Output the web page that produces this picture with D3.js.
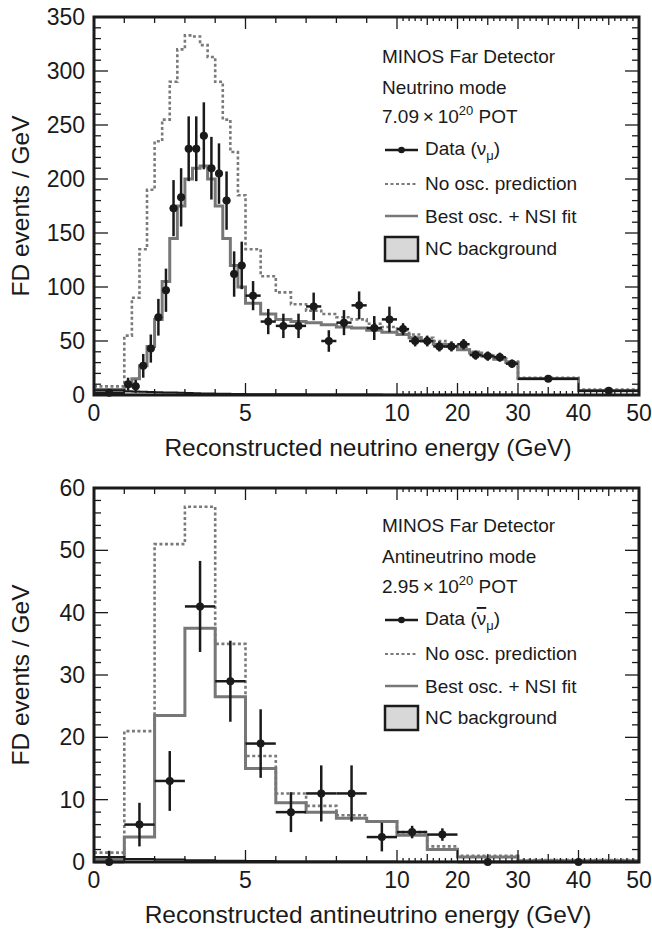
<!DOCTYPE html>
<html>
<head>
<meta charset="utf-8">
<script src="https://cdn.jsdelivr.net/npm/d3@7"></script>
<style>
  body { margin: 0; background: #fff; }
  text { font-family: "Liberation Sans", Arial, sans-serif; fill: #1a1a1a; }
</style>
</head>
<body>
<div id="chart"></div>
<script>
// ------ top panel: neutrino mode
var edgesNu = [0, 1, 1.25, 1.5, 1.75, 2, 2.25, 2.5, 2.75, 3, 3.25, 3.5, 3.75, 4, 4.25, 4.5, 4.75, 5,
  5.5, 6, 6.5, 7, 7.5, 8, 8.5, 9, 9.5, 10, 12, 14, 16, 18, 20, 22, 24, 26, 28, 30, 40, 50]
var dataNu = [2, 10, 8, 27, 43, 72, 97, 173, 183, 228, 228, 240, 210, 205, 180, 112, 120,
  92, 68, 64, 64, 82, 50, 67, 83, 62, 70, 61, 50, 50, 45, 45, 47, 37, 36, 35, 29, 15, 4]
var errNu = [2, 6, 6, 11, 13, 17, 20, 26, 27, 30, 30, 31, 29, 28, 27, 21, 22,
  13.5, 11.7, 11.3, 11.3, 12.8, 10, 11.6, 12.9, 11.1, 11.8, 5.5, 5, 5, 4.7, 4.7, 4.8, 4.3, 4.3, 4.2, 3.9, 1.2, 0.6]
var noOscNu = [8, 55, 90, 135, 190, 235, 255, 290, 320, 333, 332, 324, 313, 290, 255, 225, 185,
  135, 110, 95, 84, 78, 75, 72, 70, 66, 63, 60, 56, 53, 50, 47, 44, 40, 37, 34, 31, 16, 5]
var fitNu = [5, 8, 15, 27, 45, 70, 105, 145, 175, 200, 210, 212, 200, 175, 145, 120, 100,
  85, 75, 70, 68, 67, 65, 63, 62, 60, 58, 56, 53, 50, 47, 45, 42, 39, 36, 33, 30, 15, 4]
var ncNu = [4.5, 3.5, 3.3, 3, 2.8, 2.6, 2.4, 2.2, 2, 1.8, 1.6, 1.5, 1.3, 1.2, 1.1, 1, 0.9,
  0.8, 0.7, 0.6, 0.6, 0.5, 0.5, 0.4, 0.4, 0.4, 0.3, 0.3, 0.3, 0.3, 0.2, 0.2, 0.2, 0.2, 0.2, 0.2, 0.2, 0.1, 0.1]

// ------ bottom panel: antineutrino mode
var edgesNubar = [0, 1, 2, 3, 4, 5, 6, 7, 8, 9, 10, 15, 20, 30, 50]
var dataNubar = [0, 6, 13, 41, 29, 19, 8, 11, 11, 4, 4.8, 4.4, 0, 0]
var errNubar = [1.8, 3.5, 4.8, 7.3, 6.5, 5.5, 3.2, 4.5, 4.5, 2.3, 1.0, 1.0, 0.2, 0.1]
var noOscNubar = [1.5, 21, 51, 57, 35, 17, 11, 9, 7.5, 6.5, 4.8, 2.5, 1, 0.3]
var fitNubar = [0.5, 4, 23.5, 37.5, 26.5, 15, 9.5, 8, 7, 6.5, 4.3, 2, 0.8, 0.2]
var ncNubar = [0.8, 0.5, 0.4, 0.3, 0.2, 0.15, 0.1, 0.1, 0.1, 0.1, 0.05, 0.05, 0.03, 0.02]

var xMajor = [0, 5, 10, 20, 30, 40, 50]

var width = 652
var height = 935

var svg = d3.select('#chart').append('svg')
  .attr('width', width)
  .attr('height', height)

var x = d3.scaleLinear().domain([0, 10, 50]).range([94, 397, 639])

function drawPanel(p) {
  var y = d3.scaleLinear().domain([0, p.yMax]).range([p.yBot, p.yTop])
  var g = svg.append('g')

  var bins = p.edges.slice(0, -1).map((lo, i) => ({
    lo: lo, hi: p.edges[i + 1], data: p.data[i], err: p.err[i],
    noOsc: p.noOsc[i], fit: p.fit[i], nc: p.nc[i]
  }))

  function steps(key) {
    var pts = bins.map(b => [x(b.lo), y(b[key])])
    var last = bins[bins.length - 1]
    pts.push([x(last.hi), y(last[key])])
    return d3.line().curve(d3.curveStepAfter)(pts)
  }

  // NC background fill
  var area = d3.area().curve(d3.curveStepAfter)
    .x(d => d[0]).y0(y(0)).y1(d => d[1])
  var ncPts = bins.map(b => [x(b.lo), y(b.nc)])
  ncPts.push([x(50), y(bins[bins.length - 1].nc)])
  g.append('path').attr('d', area(ncPts)).attr('fill', '#d8d8d8')

  g.append('path').attr('d', steps('noOsc'))
    .attr('fill', 'none').attr('stroke', '#7a7a7a')
    .attr('stroke-width', 2.6).attr('stroke-dasharray', '3,2.5')
  g.append('path').attr('d', steps('fit'))
    .attr('fill', 'none').attr('stroke', '#777').attr('stroke-width', 3)
  g.append('path').attr('d', steps('nc'))
    .attr('fill', 'none').attr('stroke', '#1a1a1a').attr('stroke-width', 2)

  // data points
  var pts = g.append('g').selectAll('g').data(bins).enter().append('g')
  pts.append('line')
    .attr('x1', d => x(d.lo)).attr('x2', d => x(d.hi))
    .attr('y1', d => y(d.data)).attr('y2', d => y(d.data))
    .attr('stroke', '#1a1a1a').attr('stroke-width', 2.5)
  pts.append('line')
    .attr('x1', d => x((d.lo + d.hi) / 2)).attr('x2', d => x((d.lo + d.hi) / 2))
    .attr('y1', d => y(Math.max(0, d.data - d.err))).attr('y2', d => y(d.data + d.err))
    .attr('stroke', '#1a1a1a').attr('stroke-width', 2.5)
  pts.append('circle')
    .attr('cx', d => x((d.lo + d.hi) / 2)).attr('cy', d => y(d.data))
    .attr('r', 4).attr('fill', '#1a1a1a')

  // ticks
  var tk = g.append('g').attr('stroke', '#1a1a1a').attr('stroke-width', 1.3)
  var yTicks = d3.range(0, p.yMax + 0.001, p.yMinor)
  yTicks.forEach(v => {
    var len = Math.abs(v % p.yMajor) < 1e-6 ? 14 : 7
    tk.append('line').attr('x1', x(0)).attr('x2', x(0) + len).attr('y1', y(v)).attr('y2', y(v))
    tk.append('line').attr('x1', x(50)).attr('x2', x(50) - len).attr('y1', y(v)).attr('y2', y(v))
  })
  var xTicks = d3.range(1, 50)
  xTicks.forEach(v => {
    var len
    if (xMajor.indexOf(v) >= 0) len = 12
    else if (v > 10 && v % 5 === 0) len = 8
    else if (v < 10) len = 6
    else len = 4
    tk.append('line').attr('x1', x(v)).attr('x2', x(v)).attr('y1', y(0)).attr('y2', y(0) - len)
    tk.append('line').attr('x1', x(v)).attr('x2', x(v)).attr('y1', y(p.yMax)).attr('y2', y(p.yMax) + len)
  })

  // frame
  g.append('rect')
    .attr('x', x(0)).attr('y', y(p.yMax))
    .attr('width', x(50) - x(0)).attr('height', y(0) - y(p.yMax))
    .attr('fill', 'none').attr('stroke', '#1a1a1a').attr('stroke-width', 3)

  // tick labels
  g.append('g').selectAll('text')
    .data(d3.range(0, p.yMax + 0.001, p.yMajor)).enter().append('text')
    .attr('x', 85).attr('y', d => y(d) + 8)
    .attr('text-anchor', 'end').style('font-size', '23px')
    .text(d => d)
  g.append('g').selectAll('text')
    .data(xMajor).enter().append('text')
    .attr('x', d => x(d)).attr('y', y(0) + 26)
    .attr('text-anchor', 'middle').style('font-size', '23px')
    .text(d => d)

  // axis titles
  g.append('text')
    .attr('transform', `translate(29,${(p.yTop + p.yBot) / 2}) rotate(-90)`)
    .attr('text-anchor', 'middle').style('font-size', '24.5px')
    .text('FD events / GeV')
  g.append('text')
    .attr('x', 368).attr('y', y(0) + 61)
    .attr('text-anchor', 'middle').style('font-size', '24.5px')
    .text(p.xTitle)

  // legend
  var lx = 382
  var b = p.legendBase
  var fs = '19px'
  g.append('text').attr('x', lx).attr('y', b[0]).style('font-size', fs).text('MINOS Far Detector')
  g.append('text').attr('x', lx).attr('y', b[1]).style('font-size', fs).text(p.mode)
  var pot = g.append('text').attr('x', lx).attr('y', b[2]).style('font-size', fs)
  pot.append('tspan').text(p.pot + '\u2009\u00d7\u200910')
  pot.append('tspan').attr('dy', -8).style('font-size', '13px').text('20')
  pot.append('tspan').attr('dy', 8).text(' POT')

  var sx0 = 385, sx1 = 418, tx = 425
  g.append('line').attr('x1', sx0).attr('x2', sx1).attr('y1', b[3] - 5).attr('y2', b[3] - 5)
    .attr('stroke', '#1a1a1a').attr('stroke-width', 2.5)
  g.append('circle').attr('cx', (sx0 + sx1) / 2).attr('cy', b[3] - 5).attr('r', 3.3).attr('fill', '#1a1a1a')
  var dt = g.append('text').attr('x', tx).attr('y', b[3]).style('font-size', fs)
  dt.append('tspan').text('Data (')
  dt.append('tspan').style('text-decoration', p.bar ? 'overline' : 'none').text('\u03bd')
  dt.append('tspan').attr('dy', 5).style('font-size', '13px').text('\u03bc')
  dt.append('tspan').attr('dy', -5).text(')')

  g.append('line').attr('x1', sx0).attr('x2', sx1).attr('y1', b[4] - 6).attr('y2', b[4] - 6)
    .attr('stroke', '#7a7a7a').attr('stroke-width', 2).attr('stroke-dasharray', '3,2.5')
  g.append('text').attr('x', tx).attr('y', b[4]).style('font-size', fs).text('No osc. prediction')

  g.append('line').attr('x1', sx0).attr('x2', sx1).attr('y1', b[5] - 7).attr('y2', b[5] - 7)
    .attr('stroke', '#777').attr('stroke-width', 2.5)
  g.append('text').attr('x', tx).attr('y', b[5]).style('font-size', fs).text('Best osc. + NSI fit')

  g.append('rect').attr('x', sx0).attr('y', b[6] - 18).attr('width', sx1 - sx0).attr('height', 24)
    .attr('fill', '#d8d8d8').attr('stroke', '#1a1a1a').attr('stroke-width', 2.5)
  g.append('text').attr('x', tx).attr('y', b[6]).style('font-size', fs).text('NC background')
}

drawPanel({
  edges: edgesNu, data: dataNu, err: errNu, noOsc: noOscNu, fit: fitNu, nc: ncNu,
  yTop: 17, yBot: 395, yMax: 350, yMajor: 50, yMinor: 10,
  xTitle: 'Reconstructed neutrino energy (GeV)',
  mode: 'Neutrino mode', pot: '7.09', bar: false,
  legendBase: [63, 94, 123, 155, 190, 223, 255]
})

drawPanel({
  edges: edgesNubar, data: dataNubar, err: errNubar, noOsc: noOscNubar, fit: fitNubar, nc: ncNubar,
  yTop: 488, yBot: 862, yMax: 60, yMajor: 10, yMinor: 2,
  xTitle: 'Reconstructed antineutrino energy (GeV)',
  mode: 'Antineutrino mode', pot: '2.95', bar: true,
  legendBase: [532, 563, 593, 625, 660, 693, 724]
})
</script>
</body>
</html>
